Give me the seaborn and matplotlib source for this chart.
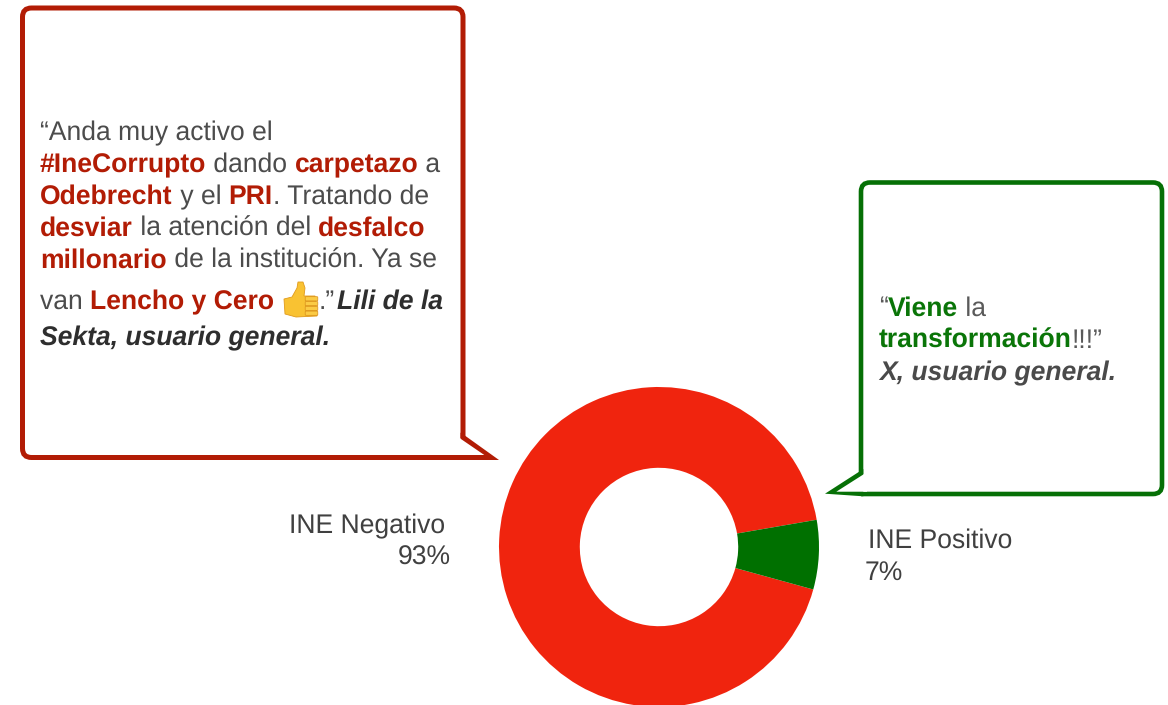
import matplotlib
matplotlib.use('Agg')
import matplotlib.pyplot as plt
import seaborn as sns
from matplotlib.patches import FancyBboxPatch, PathPatch, Polygon
from matplotlib.path import Path

# data
labels = ['INE Negativo', 'INE Positivo']
shares = [93, 7]
share_labels = ['93%', '7%']

RED_TEXT = '#B21C05'
GREEN_TEXT = '#0A7508'
RED_LINE = '#B21C05'
GREEN_LINE = '#067006'

# each line of a quote is a list of (text, style)
quote_neg = [
    [('“Anda muy activo el', 'n')],
    [('#IneCorrupto', 'b'), (' dando ', 'n'), ('carpetazo', 'b'), (' a', 'n')],
    [('Odebrecht', 'b'), (' y el ', 'n'), ('PRI', 'b'), ('. Tratando de', 'n')],
    [('desviar', 'b'), (' la atención del ', 'n'), ('desfalco', 'b')],
    [('millonario', 'b'), (' de la institución. Ya se', 'n')],
    [('van ', 'n'), ('Lencho y Cero', 'b')],
    [('Sekta, usuario general.', 'i')],
]
quote_pos = [
    [('“', 'n'), ('Viene', 'b'), (' la', 'n')],
    [('transformación', 'b'), ('!!!”', 'n')],
    [('X, usuario general.', 'i')],
]

sns.set_theme(style='white')
plt.rcParams['font.family'] = ['Liberation Sans', 'DejaVu Sans']
plt.rcParams['text.hinting'] = 'no_hinting'

W, H = 1168, 705
fig = plt.figure(figsize=(W / 100, H / 100), dpi=100)
fig.patch.set_facecolor('white')

# donut
cx, cy, r = 659, 547, 160
ax_pie = fig.add_axes([(cx - r) / W, (H - cy - r) / H, 2 * r / W, 2 * r / H])
colors = sns.color_palette(['#F0240E', '#007000'])
ax_pie.pie(shares, colors=colors, startangle=9.8, radius=1,
           wedgeprops=dict(width=0.505, clip_on=False, linewidth=0))
ax_pie.set_xlim(-1, 1)
ax_pie.set_ylim(-1, 1)

# overlay in pixels for callouts and text
ax = fig.add_axes([0, 0, 1, 1])
ax.set_xlim(0, W)
ax.set_ylim(H, 0)
ax.axis('off')
ax.patch.set_alpha(0)


def box_outline(wall_x, far_x, top, bottom, notch_top, color, lw):
    # open outline, starts at the notch and stops where the tail begins
    c = 9 if far_x > wall_x else -9
    verts = [(wall_x, notch_top), (wall_x, top + 9), (wall_x, top), (wall_x + c, top),
             (far_x - c, top), (far_x, top), (far_x, top + 9),
             (far_x, bottom - 9), (far_x, bottom), (far_x - c, bottom),
             (wall_x, bottom)]
    codes = [Path.MOVETO, Path.LINETO, Path.CURVE3, Path.CURVE3,
             Path.LINETO, Path.CURVE3, Path.CURVE3,
             Path.LINETO, Path.CURVE3, Path.CURVE3,
             Path.LINETO]
    ax.add_patch(PathPatch(Path(verts, codes), facecolor='none', edgecolor=color,
                           linewidth=lw * 0.72, capstyle='butt'))


box_outline(463, 22.5, 8, 457.5, 438, RED_LINE, 5)
ax.add_patch(Polygon([(465.5, 436), (499, 460), (460.5, 460), (460.5, 432.6)],
                     closed=True, facecolor=RED_LINE, edgecolor='none'))
ax.add_patch(Polygon([(457, 438.7), (460.5, 438.7), (484.3, 455), (457, 455)],
                     closed=True, facecolor='white', edgecolor='none'))

box_outline(861, 1162, 182.5, 494, 474, GREEN_LINE, 4.6)
ax.add_patch(Polygon([(858.7, 472), (825, 493.7), (863.3, 496.3), (863.3, 469)],
                     closed=True, facecolor=GREEN_LINE, edgecolor='none'))
ax.add_patch(Polygon([(867, 474.5), (863.3, 474.5), (836.3, 491.7), (867, 491.7)],
                     closed=True, facecolor='white', edgecolor='none'))


def draw_line(x, y, runs, accent, base_color, size=19.1):
    renderer = fig.canvas.get_renderer()
    for text, style in runs:
        kw = dict(fontsize=size, va='baseline', ha='left')
        if style == 'b':
            kw.update(color=accent, fontweight='bold')
        elif style == 'i':
            kw.update(color=base_color, fontweight='bold', fontstyle='italic')
        else:
            kw.update(color='#4C4C4C' if base_color != '#4A4A4A' else '#5A5A5A')
        t = ax.text(x, y, text, **kw)
        # keep trailing spaces in the advance
        w, _, _ = renderer.get_text_width_height_descent(text.replace(' ', '\u00a0'),
                                                         t.get_fontproperties(), False)
        x += w
    return x


baselines_neg = [140, 172, 204, 236, 268, 309, 345]
for i, (runs, y) in enumerate(zip(quote_neg, baselines_neg)):
    end = draw_line(40, y, runs, RED_TEXT, '#2E2E2E')
    if i == 5:
        # thumbs up drawn by hand, no emoji font here
        ex = 284
        ax.add_patch(Polygon([(ex, 299), (ex + 8, 297), (ex + 13, 288), (ex + 14, 282),
                              (ex + 19, 282), (ex + 21, 288), (ex + 20, 296), (ex + 31, 296),
                              (ex + 33, 316), (ex + 12, 317), (ex + 1, 314)],
                             closed=True, facecolor='#F9C232', edgecolor='#E09A1C', linewidth=0.6))
        for k in range(4):
            ax.add_patch(FancyBboxPatch((ex + 22, 297.5 + k * 4.8), 11, 2.6,
                                        boxstyle='round,pad=0.8', facecolor='#FBCB45',
                                        edgecolor='#D98F1A', linewidth=0.5))
        draw_line(319, 309, [('.”', 'n')], RED_TEXT, '#2E2E2E')
        draw_line(337, 309, [('Lili de la', 'i')], RED_TEXT, '#2E2E2E')

baselines_pos = [316, 348, 380]
for runs, y in zip(quote_pos, baselines_pos):
    draw_line(879, y, runs, GREEN_TEXT, '#4A4A4A')

# slice labels
ax.text(289, 533, labels[0], fontsize=19.1, color='#404040', va='baseline', ha='left')
ax.text(451, 565, share_labels[0], fontsize=19.1, color='#404040', va='baseline', ha='right')
ax.text(868, 548, labels[1], fontsize=19.1, color='#404040', va='baseline', ha='left')
ax.text(865, 580, share_labels[1], fontsize=19.1, color='#404040', va='baseline', ha='left')

fig.savefig('out.png', dpi=100)
